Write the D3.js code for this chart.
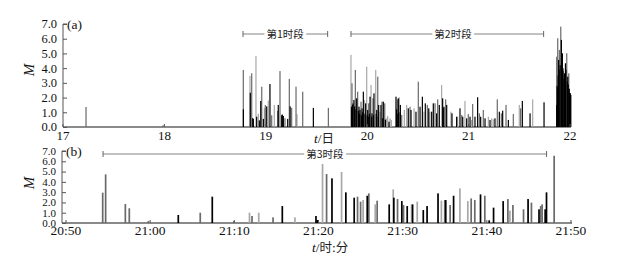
<!DOCTYPE html>
<html>
<head>
<meta charset="utf-8">
<script src="https://cdn.jsdelivr.net/npm/d3@7/dist/d3.min.js"></script>
<style>
  body { margin: 0; background: #fff; }
  svg { display: block; }
  .tick-label { font-family: "Liberation Serif", "Times New Roman", serif; fill: #111; }
  .cjk { font-family: "Noto Sans CJK SC", sans-serif; fill: #222; }
</style>
</head>
<body>
<svg id="chart" width="630" height="257"></svg>
<script>
// ---- data ----
const dayTicks = [17, 18, 19, 20, 21, 22];
const magTicks = [0, 1, 2, 3, 4, 5, 6, 7];
const minuteTicks = [0, 10, 20, 30, 40, 50, 60];
const minuteLabels = ['20:50', '21:00', '21:10', '21:20', '21:30', '21:40', '21:50'];

// [day, M, shade]  shade: 0 black, 1 gray, 2 light gray
const eventsA = [
  [17.227, 1.36, 1], [17.986, 0.12, 1],
  [18.778, 3.88, 1], [18.779, 1.2, 0], [18.844, 3.47, 2], [18.847, 2.33, 0],
  [18.861, 3.65, 1], [18.871, 0.6, 0], [18.877, 0.55, 0], [18.903, 4.83, 2],
  [18.910, 0.7, 0], [18.926, 0.9, 2], [18.936, 0.45, 0], [18.950, 1.77, 0],
  [18.960, 2.74, 1], [18.976, 0.55, 0], [18.986, 1.28, 2], [18.995, 1.5, 1],
  [19.009, 1.4, 0], [19.025, 1.8, 2], [19.041, 2.92, 0], [19.058, 0.8, 1],
  [19.084, 1.5, 2], [19.117, 1.1, 1], [19.123, 1.5, 0], [19.140, 3.8, 1],
  [19.157, 0.8, 0], [19.163, 0.85, 0], [19.173, 0.75, 0], [19.189, 0.6, 1],
  [19.216, 0.55, 0], [19.232, 3.27, 1], [19.240, 1.4, 0], [19.255, 1.3, 1],
  [19.298, 2.74, 1], [19.308, 0.87, 2], [19.364, 2.4, 1], [19.469, 1.3, 0],
  [19.617, 1.3, 1],
  [19.840, 4.9, 2], [19.850, 2.97, 1], [19.845, 1.38, 0], [19.855, 1.5, 0],
  [19.860, 1.6, 0], [19.869, 1.84, 0], [19.876, 1.4, 0], [19.883, 3.88, 1],
  [19.889, 1.2, 0], [19.896, 1.95, 0], [19.906, 2.4, 1], [19.913, 1.1, 0],
  [19.919, 1.38, 0], [19.925, 0.9, 0], [19.929, 1.16, 0], [19.939, 1.72, 1],
  [19.944, 0.8, 0], [19.949, 1.27, 0], [19.955, 1.0, 0], [19.962, 2.4, 0],
  [19.972, 1.84, 2], [19.978, 0.9, 0], [19.985, 1.61, 0], [19.995, 4.1, 2],
  [20.000, 0.8, 0], [20.005, 1.16, 0], [20.010, 0.7, 0], [20.015, 1.61, 1],
  [20.021, 0.9, 0], [20.028, 2.06, 0], [20.038, 2.86, 2], [20.043, 0.7, 0],
  [20.047, 0.93, 0], [20.057, 1.95, 1], [20.062, 0.8, 0], [20.067, 2.29, 0],
  [20.084, 3.88, 2], [20.089, 0.9, 0], [20.094, 1.16, 0], [20.104, 3.42, 1],
  [20.109, 0.7, 0], [20.113, 1.5, 0], [20.126, 1.04, 2], [20.136, 1.5, 0],
  [20.146, 1.72, 1], [20.153, 0.6, 0], [20.159, 1.72, 0], [20.173, 1.61, 1],
  [20.180, 0.5, 0], [20.192, 0.59, 2], [20.202, 0.75, 2], [20.215, 0.36, 0],
  [20.225, 0.59, 2], [20.238, 0.48, 2],
  [20.284, 2.06, 0], [20.290, 1.2, 0], [20.297, 1.88, 1], [20.302, 0.9, 0],
  [20.307, 1.95, 0], [20.312, 1.0, 0], [20.317, 2.02, 2], [20.327, 1.5, 0],
  [20.340, 0.82, 1], [20.366, 1.16, 2], [20.389, 1.5, 2], [20.405, 1.27, 0],
  [20.422, 1.38, 1], [20.432, 1.16, 0], [20.462, 1.27, 2], [20.481, 1.04, 0],
  [20.504, 3.08, 1], [20.521, 1.38, 0], [20.544, 2.06, 0], [20.560, 1.04, 2],
  [20.573, 1.61, 0], [20.593, 1.5, 1], [20.607, 1.27, 0], [20.619, 1.04, 2],
  [20.636, 1.04, 0], [20.652, 1.61, 0], [20.669, 1.61, 1], [20.685, 0.93, 0],
  [20.695, 1.88, 1], [20.711, 1.5, 0], [20.734, 2.86, 2], [20.744, 1.95, 0],
  [20.750, 1.3, 0], [20.757, 1.38, 0], [20.774, 1.88, 1], [20.784, 1.5, 0],
  [20.826, 1.04, 2], [20.836, 0.93, 0], [20.882, 0.70, 0], [20.892, 0.70, 2],
  [20.915, 1.27, 0], [20.932, 0.82, 1], [20.942, 0.70, 0], [20.964, 1.77, 2],
  [20.981, 0.59, 0], [20.997, 0.88, 1], [21.014, 0.70, 0], [21.030, 0.48, 2],
  [21.040, 1.56, 1], [21.063, 0.70, 0], [21.089, 2.02, 0], [21.106, 0.93, 1],
  [21.119, 0.70, 0], [21.145, 1.16, 1], [21.162, 0.59, 0], [21.195, 0.70, 2],
  [21.211, 0.48, 0], [21.228, 0.59, 2], [21.244, 0.52, 2], [21.260, 0.59, 0],
  [21.283, 1.88, 1], [21.303, 1.04, 0], [21.323, 0.93, 1], [21.336, 1.11, 0],
  [21.369, 1.5, 1], [21.392, 0.48, 0], [21.441, 0.88, 1], [21.500, 1.5, 2],
  [21.513, 1.27, 1], [21.530, 1.77, 0], [21.606, 0.93, 0], [21.632, 1.88, 2],
  [21.744, 1.68, 0],
  [21.869, 4.78, 1], [21.879, 6.03, 1], [21.895, 5.24, 1], [21.909, 6.82, 1],
  [21.935, 3.99, 1], [21.968, 5.01, 1], [21.988, 3.65, 1],
  [21.869, 1.5, 0], [21.873, 2.8, 0], [21.878, 2.6, 0], [21.883, 3.5, 0],
  [21.888, 4.56, 0], [21.893, 3.9, 0], [21.903, 4.2, 0], [21.915, 5.92, 0],
  [21.920, 4.6, 0], [21.925, 5.01, 0], [21.930, 3.8, 0], [21.940, 3.3, 0],
  [21.945, 3.65, 0], [21.950, 3.0, 0], [21.955, 4.33, 0], [21.960, 3.9, 0],
  [21.973, 3.1, 0], [21.978, 3.42, 0], [21.983, 2.9, 0], [21.993, 2.6, 0],
  [21.998, 2.29, 0], [22.003, 2.3, 0], [22.008, 2.18, 0]
];

// [minutes after 20:50, M, shade]
const eventsB = [
  [4.36, 2.95, 1], [4.71, 4.73, 1], [7.05, 1.85, 1], [7.52, 1.43, 1],
  [9.78, 0.19, 1], [13.34, 0.78, 0], [15.95, 1.0, 1], [17.38, 2.56, 0],
  [19.95, 0.19, 1], [21.8, 1.0, 2], [22.1, 0.68, 1], [22.9, 1.0, 2],
  [24.6, 0.55, 1], [25.7, 1.65, 0], [27.2, 0.55, 2], [29.7, 0.68, 0],
  [29.85, 0.29, 0], [30.48, 5.73, 2], [30.96, 4.76, 1], [31.6, 4.34, 0],
  [32.74, 4.96, 2], [33.25, 2.98, 0], [34.24, 2.46, 0], [34.64, 2.56, 1],
  [35.0, 2.07, 1], [35.3, 2.23, 2], [35.79, 2.65, 0], [35.98, 2.88, 1],
  [36.74, 1.81, 2], [36.97, 2.17, 1], [38.4, 1.81, 0], [38.88, 3.27, 2],
  [38.95, 2.46, 0], [39.39, 2.33, 1], [39.9, 2.13, 0], [40.1, 1.75, 1],
  [40.54, 1.65, 0], [41.06, 1.81, 2], [41.18, 1.81, 0], [41.73, 2.07, 2],
  [42.45, 1.26, 0], [42.9, 1.65, 0], [44.2, 2.88, 0], [44.6, 2.17, 2],
  [45.0, 2.23, 1], [45.12, 2.23, 0], [45.64, 1.75, 1], [46.05, 2.65, 0],
  [46.8, 3.37, 2], [47.74, 2.13, 2], [48.14, 2.39, 1], [48.57, 2.23, 1],
  [49.25, 2.78, 0], [49.76, 2.65, 1], [50.28, 0.26, 0], [50.8, 1.49, 0],
  [51.94, 2.13, 0], [52.5, 2.33, 1], [52.74, 1.2, 2], [53.1, 1.75, 1],
  [54.36, 1.33, 1], [54.9, 2.33, 0], [55.3, 1.98, 1], [56.2, 1.33, 0],
  [56.4, 1.65, 1], [56.57, 1.81, 1], [56.93, 1.33, 0], [57.09, 2.98, 0],
  [58.0, 6.54, 1]
];

// bracket periods: [start, end, label centre, label]
const periodsA = [[18.775, 19.61, 19.19, '第1时段'], [19.84, 21.74, 20.846, '第2时段']];
const periodsB = [[4.4, 57.1, 30.76, '第3时段']];

const shadeColor = ['#000', '#6a6a6a', '#a8a8a8'];

const svg = d3.select('#chart');

function drawPanel(opt) {
  const x = d3.scaleLinear().domain(opt.xDomain).range(opt.xRange);
  const y = d3.scaleLinear().domain([0, 7]).range(opt.yRange);
  const g = svg.append('g');

  // x axis baseline
  g.append('line')
    .attr('x1', opt.axisX).attr('x2', x(opt.xDomain[1]) + 1)
    .attr('y1', y(0)).attr('y2', y(0))
    .attr('stroke', '#8a8a8a').attr('stroke-width', 1.8);

  // bars, light first so black sits on top
  const sorted = opt.events.slice().sort((a, b) => b[2] - a[2]);
  g.append('g').selectAll('rect')
    .data(sorted)
    .join('rect')
    .attr('x', d => x(d[0]) - opt.barW / 2)
    .attr('width', opt.barW)
    .attr('y', d => y(d[1]))
    .attr('height', d => y(0) - y(d[1]))
    .attr('fill', d => shadeColor[d[2]]);

  // y axis
  const yAxis = d3.axisRight(y).tickValues(magTicks).tickSize(4).tickFormat('');
  const ya = g.append('g').attr('transform', 'translate(' + opt.axisX + ',0)').call(yAxis);
  ya.select('.domain').attr('stroke', '#555').attr('d', 'M4,' + y(7) + 'H0V' + y(0));
  ya.selectAll('.tick line').attr('stroke', '#555');

  g.selectAll('.ylab')
    .data(magTicks)
    .join('text')
    .attr('class', 'tick-label')
    .attr('x', opt.axisX - 6)
    .attr('y', d => y(d))
    .attr('dy', '0.35em')
    .attr('text-anchor', 'end')
    .attr('font-size', opt.yFont)
    .text(d => d.toFixed(1));

  // x tick labels
  g.selectAll('.xlab')
    .data(opt.xTicks)
    .join('text')
    .attr('class', 'tick-label')
    .attr('x', (d, i) => x(d))
    .attr('y', opt.xLabelY)
    .attr('text-anchor', 'middle')
    .attr('font-size', opt.xFont)
    .text((d, i) => opt.xLabels[i]);

  g.selectAll('.xtick')
    .data(opt.xTicks)
    .join('line')
    .attr('x1', d => x(d)).attr('x2', d => x(d))
    .attr('y1', y(0)).attr('y2', y(0) - 3)
    .attr('stroke', '#555');

  // M label
  g.append('text')
    .attr('class', 'tick-label')
    .attr('transform', 'translate(34,' + opt.mY + ') rotate(-90)')
    .attr('text-anchor', 'middle')
    .attr('font-size', 15)
    .attr('font-style', 'italic')
    .text('M');

  g.append('text')
    .attr('class', 'tick-label')
    .attr('x', opt.axisX + 4)
    .attr('y', y(7) + 5)
    .attr('font-size', 13.5)
    .text(opt.tag);

  // period brackets
  opt.periods.forEach(p => {
    const by = opt.bracketY;
    const pg = g.append('g');
    pg.append('line')
      .attr('x1', x(p[0])).attr('x2', x(p[1]))
      .attr('y1', by).attr('y2', by)
      .attr('stroke', '#777').attr('stroke-width', 0.9);
    [p[0], p[1]].forEach(v => {
      pg.append('line')
        .attr('x1', x(v)).attr('x2', x(v))
        .attr('y1', by - 3).attr('y2', by + 3)
        .attr('stroke', '#555').attr('stroke-width', 0.9);
    });
    const t = pg.append('text')
      .attr('class', 'cjk')
      .attr('x', x(p[2]))
      .attr('y', by)
      .attr('dy', '0.36em')
      .attr('text-anchor', 'middle')
      .attr('font-size', 10.5)
      .text(p[3]);
    const bb = t.node().getBBox();
    pg.insert('rect', 'text')
      .attr('x', bb.x - 2).attr('y', bb.y)
      .attr('width', bb.width + 4).attr('height', bb.height)
      .attr('fill', '#fff');
  });

  return { x, y };
}

drawPanel({
  xDomain: [17, 22], xRange: [63, 570], yRange: [127, 24], axisX: 63,
  events: eventsA, barW: 1.2, yFont: 12.5,
  xTicks: dayTicks, xLabels: dayTicks.map(String), xLabelY: 140, xFont: 13,
  mY: 70, tag: '(a)', periods: periodsA, bracketY: 34
});

drawPanel({
  xDomain: [0, 60], xRange: [66, 571], yRange: [223, 151], axisX: 62,
  events: eventsB, barW: 1.7, yFont: 11,
  xTicks: minuteTicks, xLabels: minuteLabels, xLabelY: 235, xFont: 13.5,
  mY: 183, tag: '(b)', periods: periodsB, bracketY: 154
});

// axis titles
const t1 = svg.append('text').attr('x', 314).attr('y', 143).attr('font-size', 13.5);
t1.append('tspan').attr('class', 'tick-label').attr('font-style', 'italic').text('t');
t1.append('tspan').attr('class', 'tick-label').text('/');
t1.append('tspan').attr('class', 'cjk').attr('font-size', 12.5).text('日');

const t2 = svg.append('text').attr('x', 312).attr('y', 252).attr('font-size', 13.5);
t2.append('tspan').attr('class', 'tick-label').attr('font-style', 'italic').text('t');
t2.append('tspan').attr('class', 'tick-label').text('/');
t2.append('tspan').attr('class', 'cjk').attr('font-size', 12.5).text('时');
t2.append('tspan').attr('class', 'tick-label').text(':');
t2.append('tspan').attr('class', 'cjk').attr('font-size', 12.5).text('分');
</script>
</body>
</html>
